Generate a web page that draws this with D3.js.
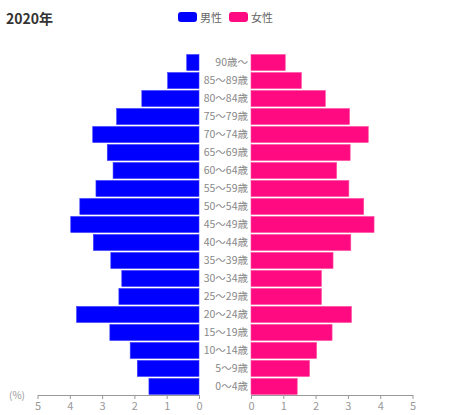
<!DOCTYPE html>
<html>
<head>
<meta charset="utf-8">
<style>
  body { margin: 0; background: #fff; font-family: "Noto Sans CJK JP", "Noto Sans", sans-serif; }
  svg { display: block; }
</style>
<script src="https://cdn.jsdelivr.net/npm/d3@7"></script>
</head>
<body>
<svg id="main"></svg>
<script>
  // age groups, top to bottom as drawn
  const ageGroups = ["90歳〜", "85〜89歳", "80〜84歳", "75〜79歳", "70〜74歳", "65〜69歳", "60〜64歳",
    "55〜59歳", "50〜54歳", "45〜49歳", "40〜44歳", "35〜39歳", "30〜34歳", "25〜29歳",
    "20〜24歳", "15〜19歳", "10〜14歳", "5〜9歳", "0〜4歳"]
  const male = [0.38, 0.97, 1.77, 2.55, 3.29, 2.84, 2.66, 3.19, 3.69, 3.97, 3.27, 2.73, 2.39, 2.48, 3.79, 2.76, 2.13, 1.91, 1.55]
  const female = [1.06, 1.56, 2.30, 3.05, 3.63, 3.07, 2.65, 3.03, 3.49, 3.81, 3.09, 2.54, 2.18, 2.18, 3.11, 2.51, 2.03, 1.81, 1.43]
  const ticks = [0, 1, 2, 3, 4, 5]
  const seriesNames = ["男性", "女性"]
  const colors = ["#0000ff", "#ff0a80"]

  const width = 450, height = 415
  const margin = {top: 54, bottom: 20, leftZero: 199, rightZero: 251, leftEnd: 37.5, rightEnd: 412.5}

  const svg = d3.select("#main").attr("width", width).attr("height", height)

  const y = d3.scaleBand().domain(ageGroups).range([margin.top, 395]).paddingInner(0.11).paddingOuter(0.03)
  const xL = d3.scaleLinear().domain([0, 5]).range([margin.leftZero, margin.leftEnd])
  const xR = d3.scaleLinear().domain([0, 5]).range([margin.rightZero, margin.rightEnd])

  // title
  svg.append("text").attr("x", 6).attr("y", 24)
    .attr("font-size", 14).attr("font-weight", "bold").attr("fill", "#333")
    .text("2020年")

  // legend
  const legend = svg.append("g").attr("font-size", 11).attr("fill", "#666")
  const lx = [178, 229]
  seriesNames.forEach((name, i) => {
    legend.append("rect").attr("x", lx[i]).attr("y", 12).attr("width", 19).attr("height", 10)
      .attr("rx", 3).attr("fill", colors[i])
    legend.append("text").attr("x", lx[i] + 22).attr("y", 21.5).text(name)
  })

  // bars
  svg.append("g").selectAll("rect").data(male).join("rect")
    .attr("x", d => xL(d)).attr("y", (d, i) => y(ageGroups[i]))
    .attr("width", d => xL(0) - xL(d)).attr("height", y.bandwidth())
    .attr("fill", colors[0]).attr("stroke", "#3a3aff").attr("stroke-width", 0.6)

  svg.append("g").selectAll("rect").data(female).join("rect")
    .attr("x", xR(0)).attr("y", (d, i) => y(ageGroups[i]))
    .attr("width", d => xR(d) - xR(0)).attr("height", y.bandwidth())
    .attr("fill", colors[1]).attr("stroke", "#ff4aa0").attr("stroke-width", 0.6)

  // age labels
  svg.append("g").attr("font-size", 10.5).attr("fill", "#888").attr("text-anchor", "end")
    .selectAll("text").data(ageGroups).join("text")
    .attr("x", 248).attr("y", d => y(d) + y.bandwidth() / 2).attr("dy", "0.35em")
    .text(d => d)

  // axes
  const axisY = 395
  function styleAxis(g) {
    g.select(".domain").attr("stroke", "#999")
    g.selectAll(".tick line").attr("stroke", "#999")
    g.selectAll(".tick text").attr("fill", "#999").attr("font-size", 11)
      .attr("font-family", "\"Noto Sans CJK JP\", sans-serif")
  }
  svg.append("g").attr("transform", `translate(0,${axisY})`)
    .call(d3.axisBottom(xL).tickValues(ticks).tickSize(4).tickSizeOuter(0).tickFormat(d3.format("d")))
    .call(styleAxis)
  svg.append("g").attr("transform", `translate(0,${axisY})`)
    .call(d3.axisBottom(xR).tickValues(ticks).tickSize(4).tickSizeOuter(0).tickFormat(d3.format("d")))
    .call(styleAxis)

  svg.append("text").attr("x", 9).attr("y", 399).attr("font-size", 10).attr("fill", "#999").text("(%)")
</script>
</body>
</html>
